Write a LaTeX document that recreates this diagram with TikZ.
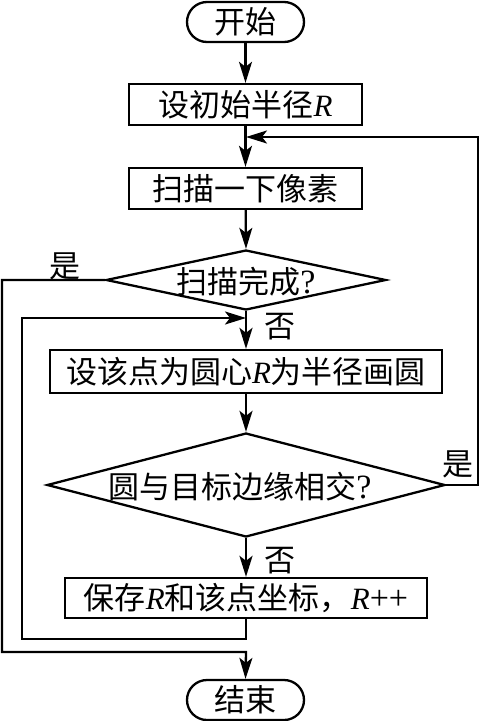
\documentclass[tikz,border=0pt]{standalone}
\usepackage{fontspec}
\setmainfont{Liberation Serif}
\newfontfamily\zh{Noto Sans CJK SC}
\usetikzlibrary{shapes.geometric,arrows.meta}
\begin{document}
\begin{tikzpicture}[x=1pt,y=-1pt,
  every node/.style={font=\fontsize{31}{34}\selectfont, inner sep=0pt},
  arr/.style={line width=2.3pt, -{Stealth[length=21pt,width=13pt,inset=5pt]}},
  procbox/.style={draw, line width=2.3pt, rectangle, minimum height=41pt},
  termbox/.style={draw, line width=2.3pt, rectangle, rounded corners=20pt, minimum width=117pt, minimum height=40pt},
  decbox/.style={draw, line width=2.3pt, diamond}
]
\useasboundingbox (0,0) rectangle (480,721);
\node[termbox] (start) at (245.5,22) {\zh 开始};
\node[procbox, minimum width=233pt] (b1) at (245.5,104.5) {{\zh 设初始半径}\textit{R}};
\node[procbox, minimum width=233pt] (b2) at (245.5,188.5) {\zh 扫描一下像素};
\node[decbox, minimum width=280pt, minimum height=60pt, aspect=4.67] (d1) at (246,280) {};
\node (t1) at (246,282) {{\zh 扫描完成}{\fontsize{34}{36}\selectfont ?}};
\node[procbox, minimum width=392pt, minimum height=43pt] (b3) at (246,371.5) {{\zh 设该点为圆心}\textit{R}{\zh 为半径画圆}};
\node[decbox, minimum width=398pt, minimum height=104pt, aspect=3.83] (d2) at (246,485) {};
\node (t2) at (240,487) {{\zh 圆与目标边缘相交}{\fontsize{34}{36}\selectfont ?}};
\node[procbox, minimum width=362pt, minimum height=40pt] (b4) at (246,598) {{\zh 保存}\textit{R}{\zh 和该点坐标，}\textit{R}{\fontsize{34}{36}\selectfont ++}};
\node[termbox] (end) at (245.5,700) {\zh 结束};

\coordinate (m1) at (246,137);
\coordinate (m2) at (246,318);
\coordinate (r1) at (478,485);
\coordinate (r2) at (478,137);
\coordinate (l1) at (2,280);
\coordinate (l2) at (2,652);
\coordinate (l3) at (246,652);
\coordinate (k1) at (246,639);
\coordinate (k2) at (22,639);
\coordinate (k3) at (22,318);

\draw[arr] (start) -- (b1);
\draw[arr] (b1) -- (b2);
\draw[arr] (b2) -- (d1.north);
\draw[arr] (d1.south) -- (b3);
\draw[arr] (b3) -- (d2.north);
\draw[arr] (d2.south) -- (b4);
\draw[arr] (d2.east) -- (r1) -- (r2) -- (m1);
\draw[arr] (d1.west) -- (l1) -- (l2) -- (l3) -- (end.north);
\draw[arr] (b4.south) -- (k1) -- (k2) -- (k3) -- (m2);

\node (y1) at (65,266) {\zh 是};
\node (n1) at (280,327) {\zh 否};
\node (y2) at (458,464) {\zh 是};
\node (n2) at (280,561) {\zh 否};
\end{tikzpicture}
\end{document}
